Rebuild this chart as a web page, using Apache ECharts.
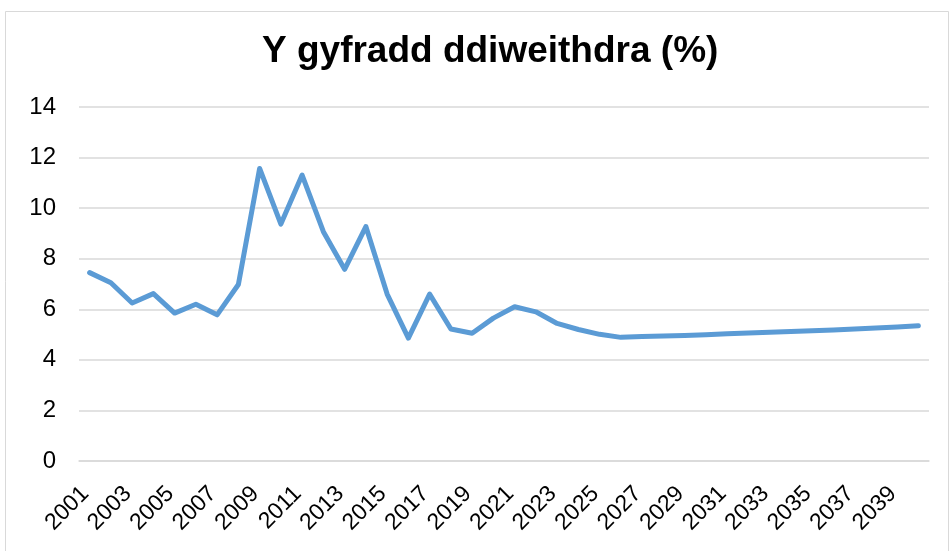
<!DOCTYPE html>
<html>
<head>
<meta charset="utf-8">
<script src="https://cdn.jsdelivr.net/npm/echarts@6/dist/echarts.min.js"></script>
<style>
  html, body { margin: 0; padding: 0; background: #fff; }
  #chart { width: 951px; height: 551px; }
</style>
</head>
<body>
<div id="chart"></div>
<script>
// Unemployment rate, 2001–2040 (%)
const years = [
  '2001','2002','2003','2004','2005','2006','2007','2008','2009','2010',
  '2011','2012','2013','2014','2015','2016','2017','2018','2019','2020',
  '2021','2022','2023','2024','2025','2026','2027','2028','2029','2030',
  '2031','2032','2033','2034','2035','2036','2037','2038','2039','2040'
];
const rate = [
  7.45, 7.05, 6.25, 6.62, 5.85, 6.2, 5.78, 6.98, 11.57, 9.37,
  11.31, 9.07, 7.58, 9.27, 6.6, 4.86, 6.6, 5.22, 5.05, 5.65,
  6.1, 5.9, 5.44, 5.2, 5.01, 4.89, 4.92, 4.94, 4.96, 4.99,
  5.03, 5.06, 5.09, 5.12, 5.15, 5.18, 5.22, 5.26, 5.3, 5.35
];
const yTicks = { min: 0, max: 14, step: 2 };
const titleText = 'Y gyfradd ddiweithdra (%)';

const FONT = 'Liberation Sans, Arial, sans-serif';

const chart = echarts.init(document.getElementById('chart'));
chart.setOption({
  animation: false,
  backgroundColor: '#ffffff',
  graphic: [{
    type: 'rect',
    shape: { x: 5.5, y: 11.5, width: 943, height: 560 },
    style: { fill: 'none', stroke: '#d9d9d9', lineWidth: 1 },
    silent: true
  }],
  title: {
    text: titleText,
    left: 257,
    top: 28,
    textStyle: {
      fontFamily: FONT,
      fontWeight: 'bold',
      fontSize: 37,
      color: '#000'
    }
  },
  grid: { left: 79, right: 22, top: 107, bottom: 90, containLabel: false },
  xAxis: {
    type: 'category',
    data: years,
    boundaryGap: true,
    axisLine: { show: true, lineStyle: { color: '#d9d9d9', width: 1.5 } },
    axisTick: { show: false },
    axisLabel: {
      interval: 1,
      rotate: 45,
      margin: 25,
      padding: [0, 6, 0, 0],
      fontFamily: FONT,
      fontSize: 23,
      color: '#000'
    }
  },
  yAxis: {
    type: 'value',
    min: yTicks.min,
    max: yTicks.max,
    interval: yTicks.step,
    axisLine: { show: false },
    axisTick: { show: false },
    splitLine: { lineStyle: { color: '#d9d9d9', width: 1.5 } },
    axisLabel: {
      margin: 23,
      fontFamily: FONT,
      fontSize: 24,
      color: '#000'
    }
  },
  series: [{
    type: 'line',
    data: rate,
    showSymbol: false,
    symbol: 'none',
    lineStyle: { color: '#5b9bd5', width: 5, cap: 'round', join: 'round' },
    itemStyle: { color: '#5b9bd5' }
  }]
});
</script>
</body>
</html>
